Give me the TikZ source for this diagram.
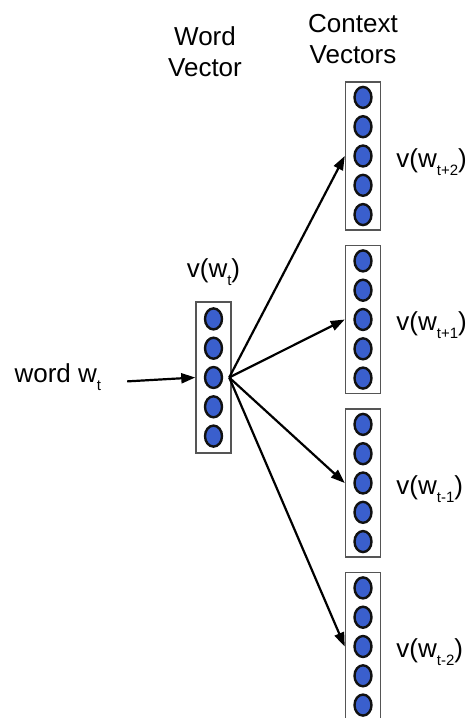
\documentclass[tikz,border=0pt]{standalone}
\usepackage{fontspec}
\setmainfont{Liberation Sans}
\usetikzlibrary{positioning,arrows.meta,calc,shapes.geometric}
\definecolor{unitfill}{HTML}{3A5FCD}
\definecolor{unitline}{HTML}{111111}
\definecolor{boxline}{HTML}{555555}
\newcommand{\low}[1]{\raisebox{-8pt}{\fontsize{15}{15}\selectfont #1}}
\tikzset{
  lbl/.style={inner sep=0pt, font=\fontsize{26}{31}\selectfont, align=center},
  vec/.style={draw=boxline, line width=1.5pt, minimum width=35pt, inner sep=0pt},
  unit/.style={ellipse, draw=unitline, fill=unitfill, line width=2.4pt,
               minimum width=17pt, minimum height=21pt, inner sep=0pt},
  flow/.style={-{Triangle[length=14pt,width=10pt]}, line width=2.2pt},
}
\begin{document}
\begin{tikzpicture}[x=1pt,y=1pt]
\useasboundingbox (0,0) rectangle (470,-718);

% ---- word vector in the middle, context vectors in a column ----
\node[vec, minimum height=151pt] (wv) at (213.5,-377.5) {};
\node[vec, minimum height=148pt] (cv1) at (363,-156) {};
\node[vec, minimum height=148pt, below=14pt of cv1] (cv2) {};
\node[vec, minimum height=148pt, below=14pt of cv2] (cv3) {};
\node[vec, minimum height=148pt, below=14pt of cv3] (cv4) {};
\foreach \v in {wv,cv1,cv2,cv3,cv4} {
  \foreach \i in {1,...,5}
    \node[unit] (\v-\i) at ($(\v.center)+(0,{(3-\i)*29.3})$) {};
}

% ---- headers and labels ----
\node[lbl, anchor=base] (whead) at (205,-76) {Word\\Vector};
\node[lbl, anchor=base] (chead) at (353,-63) {Context\\Vectors};
\node[lbl, anchor=base] (vt) at ($(wv.north)+(0,24pt)$) {v(w\low{t})};
\node[lbl, anchor=base east, left=94pt of wv] (word) {word w\low{t}};
\foreach \v/\s in {cv1/t+2,cv2/t+1,cv3/t-1,cv4/t-2}
  \node[lbl, anchor=base west] (\v-lbl) at ($(\v.east)+(15pt,-11pt)$) {v(w\low{\s})};

% ---- arrows ----
\draw[flow, shorten <=26pt] (word.base east) -- (wv.west);
\coordinate (hub) at ($(wv-3.east)+(6pt,0)$);
\foreach \v in {cv1,cv2,cv3,cv4} {\draw[flow] (hub) -- (\v.west);}
\end{tikzpicture}
\end{document}
